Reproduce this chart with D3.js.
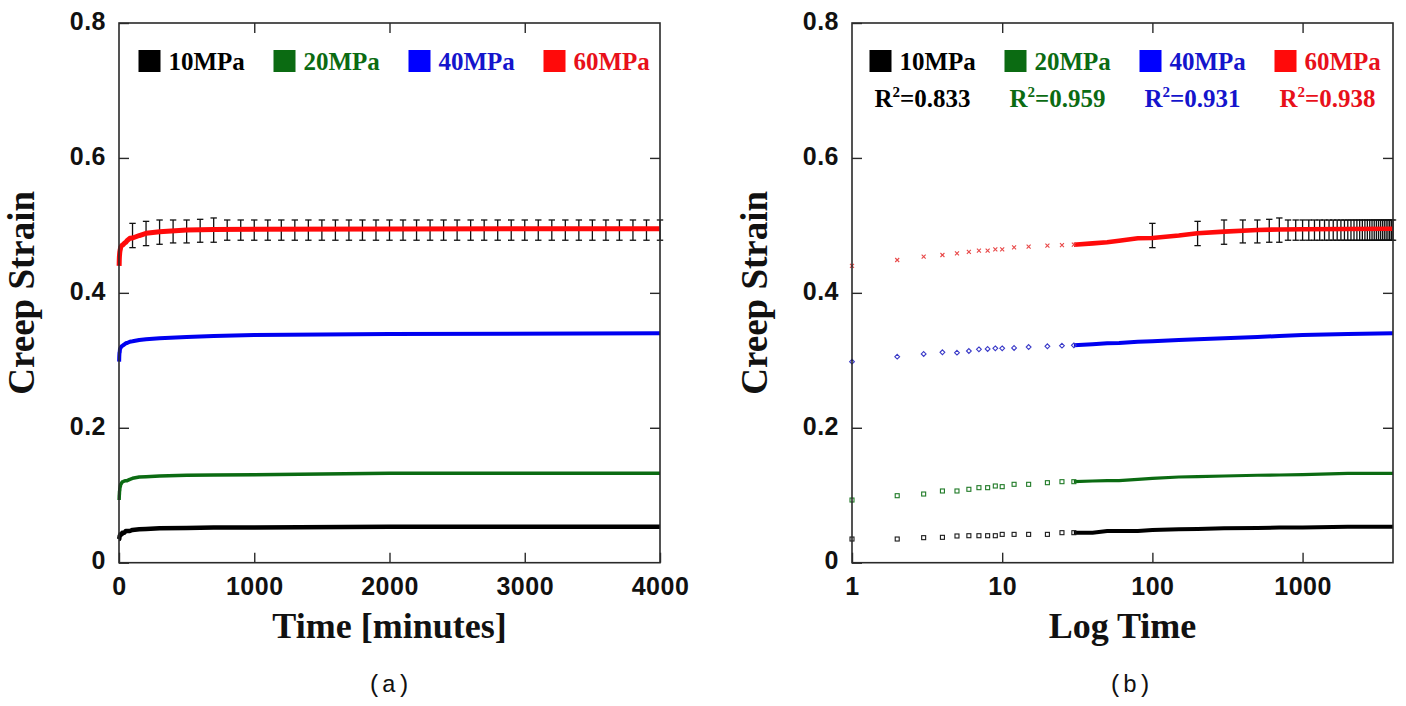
<!DOCTYPE html>
<html><head><meta charset="utf-8">
<script src="https://cdn.jsdelivr.net/npm/d3@7"></script>
<style>html,body{margin:0;padding:0;background:#fff;}svg{display:block;}</style>
</head><body>
<svg id="chart" width="1406" height="706"></svg>
<script>
// ---- data ----
const seriesNames = ["10MPa", "20MPa", "40MPa", "60MPa"];
const rSquared = ["0.833", "0.959", "0.931", "0.938"];
const times = [1,2,3,4,5,6,7,8,9,10,12,15,20,25,30,40,50,60,80,100,150,200,300,500,700,1000,2000,4000];
const strain10 = [0.0351,0.0351,0.0371,0.0376,0.0396,0.0400,0.0400,0.0400,0.0400,0.0420,0.0420,0.0420,0.0420,0.0445,0.0445,0.0445,0.0470,0.0470,0.0470,0.0485,0.0495,0.0500,0.0510,0.0514,0.0520,0.0520,0.0534,0.0534];
const strain20 = [0.0929,0.0993,0.1018,0.1063,0.1063,0.1088,0.1112,0.1112,0.1137,0.1127,0.1162,0.1162,0.1186,0.1201,0.1201,0.1211,0.1216,0.1216,0.1236,0.1251,0.1270,0.1275,0.1285,0.1296,0.1300,0.1305,0.1325,0.1325];
const strain40 = [0.2980,0.3054,0.3094,0.3119,0.3113,0.3138,0.3163,0.3168,0.3178,0.3178,0.3183,0.3197,0.3208,0.3217,0.3222,0.3237,0.3252,0.3257,0.3276,0.3282,0.3301,0.3311,0.3326,0.3346,0.3360,0.3375,0.3390,0.3400];
const strain60 = [0.4400,0.4487,0.4536,0.4561,0.4586,0.4606,0.4625,0.4625,0.4645,0.4645,0.4675,0.4684,0.4699,0.4709,0.4714,0.4734,0.4749,0.4773,0.4809,0.4813,0.4850,0.4883,0.4907,0.4932,0.4940,0.4942,0.4947,0.4951];
// error bars on the 60MPa series
const errTimes = [100,200,300,400,500,600,700,800,900,1000,1100,1200,1300,1400,1500,1600,1700,1800,1900,2000,2100,2200,2300,2400,2500,2600,2700,2800,2900,3000,3100,3200,3300,3400,3500,3600,3700,3800,3900,4000];
const errMean = [0.485,0.488,0.490,0.491,0.491,0.492,0.493,0.493,0.493,0.493,0.493,0.493,0.493,0.493,0.493,0.493,0.493,0.493,0.493,0.493,0.493,0.493,0.493,0.493,0.493,0.493,0.493,0.493,0.493,0.493,0.493,0.493,0.493,0.493,0.493,0.493,0.493,0.493,0.493,0.493];
const errHalf = [0.018,0.018,0.018,0.017,0.017,0.017,0.018,0.015,0.015,0.015,0.015,0.015,0.015,0.015,0.015,0.015,0.015,0.015,0.015,0.015,0.015,0.015,0.015,0.015,0.015,0.015,0.015,0.015,0.015,0.015,0.015,0.015,0.015,0.015,0.015,0.015,0.015,0.015,0.015,0.015];
const yTicks = [0, 0.2, 0.4, 0.6, 0.8];
const yTickLabels = ["0", "0.2", "0.4", "0.6", "0.8"];
const xTicksA = [0, 1000, 2000, 3000, 4000];
const xTicksB = [1, 10, 100, 1000];

// ---- styling ----
const lineColors = ["#000000", "#0b6b12", "#0000f0", "#ff0a0a"];
const squareColors = ["#000000", "#0b6b12", "#0000ff", "#ff0a0a"];
const textColors = ["#000000", "#0b6b12", "#1414cc", "#e8101a"];
const markColors = ["#1a1a1a", "#1f7a26", "#3a3ac8", "#e84848"];
const lineWidthsA = [4.5, 3.5, 4, 5];
const lineWidthsB = [4, 3.2, 4, 4.6];
const allSeries = [strain10, strain20, strain40, strain60];

const svg = d3.select("#chart");
const tickFont = "'Liberation Sans', Arial, sans-serif";
const serif = "'Liberation Serif', 'Times New Roman', serif";

function drawPanel(opts) {
  const {x, y, xTicks, xLabelFmt, xTitle, caption, legendX, showR2} = opts;
  const [x0, x1] = x.range();
  const [y0, y1] = y.range(); // y0 bottom, y1 top
  const g = svg.append("g");

  // axes with inward ticks
  const fmtY = d => yTickLabels[yTicks.indexOf(d)];
  const axL = g.append("g").attr("transform", `translate(${x0},0)`)
    .call(d3.axisLeft(y).tickValues(yTicks).tickSize(-10).tickPadding(13).tickFormat(fmtY));
  axL.selectAll("text").attr("dy", "0.25em");
  g.append("g").attr("transform", `translate(${x1},0)`)
    .call(d3.axisRight(y).tickValues(yTicks.slice(1, -1)).tickSize(-10).tickFormat(""));
  g.append("g").attr("transform", `translate(0,${y0})`)
    .call(d3.axisBottom(x).tickValues(xTicks).tickSize(-10).tickPadding(15).tickFormat(xLabelFmt));
  g.append("g").attr("transform", `translate(0,${y1})`)
    .call(d3.axisTop(x).tickValues(xTicks.slice(1, xTicks.length - (opts.log ? 0 : 1))).tickSize(-10).tickFormat(""));
  g.selectAll(".domain").remove();
  g.selectAll(".tick line").attr("stroke", "#2a2a2a").attr("stroke-width", 1.4);
  g.selectAll(".tick text").attr("font-family", tickFont).attr("font-weight", "bold")
    .attr("font-size", 25).attr("letter-spacing", 0.5).attr("fill", "#111");

  // error bars (60MPa)
  const eb = g.append("g").attr("stroke", "#111").attr("stroke-width", 1.3).attr("fill", "none");
  errTimes.forEach((t, i) => {
    const cx = x(t), ya = y(errMean[i] + errHalf[i]), yb = y(errMean[i] - errHalf[i]);
    eb.append("line").attr("x1", cx).attr("x2", cx).attr("y1", ya).attr("y2", yb);
    eb.append("line").attr("x1", cx - 3.2).attr("x2", cx + 3.2).attr("y1", ya).attr("y2", ya);
    eb.append("line").attr("x1", cx - 3.2).attr("x2", cx + 3.2).attr("y1", yb).attr("y2", yb);
  });

  // series
  allSeries.forEach((vals, si) => {
    const pts = times.map((t, i) => [t, vals[i]]);
    if (!opts.log) {
      g.append("path").datum(pts)
        .attr("d", d3.line().x(d => x(d[0])).y(d => y(d[1])))
        .attr("fill", "none").attr("stroke", lineColors[si])
        .attr("stroke-width", lineWidthsA[si]).attr("stroke-linejoin", "round");
    } else {
      const dense = pts.filter(d => d[0] >= 30);
      g.append("path").datum(dense)
        .attr("d", d3.line().x(d => x(d[0])).y(d => y(d[1])))
        .attr("fill", "none").attr("stroke", lineColors[si])
        .attr("stroke-width", lineWidthsB[si]).attr("stroke-linecap", "butt");
      const sparse = pts.filter(d => d[0] <= 30);
      const mg = g.append("g").attr("fill", "none").attr("stroke", markColors[si]).attr("stroke-width", 1.1);
      sparse.forEach(d => {
        const cx = x(d[0]), cy = y(d[1]);
        if (si === 3) {
          mg.append("path").attr("d", `M${cx-2},${cy-2}L${cx+2},${cy+2}M${cx-2},${cy+2}L${cx+2},${cy-2}`);
        } else if (si === 2) {
          mg.append("path").attr("d", `M${cx},${cy-2.4}L${cx+2.4},${cy}L${cx},${cy+2.4}L${cx-2.4},${cy}Z`);
        } else {
          mg.append("rect").attr("x", cx - 2).attr("y", cy - 2).attr("width", 4).attr("height", 4);
        }
      });
    }
  });

  // frame
  g.append("rect").attr("x", x0).attr("y", y1).attr("width", x1 - x0).attr("height", y0 - y1)
    .attr("fill", "none").attr("stroke", "#2a2a2a").attr("stroke-width", 1.6);

  // legend
  const step = 135;
  seriesNames.forEach((name, i) => {
    const lx = legendX + i * step;
    g.append("rect").attr("x", lx).attr("y", 50).attr("width", 22).attr("height", 22)
      .attr("fill", squareColors[i]);
    g.append("text").attr("x", lx + 30).attr("y", 70).text(name)
      .attr("font-family", serif).attr("font-weight", "bold").attr("font-size", 25)
      .attr("fill", textColors[i]);
    if (showR2) {
      const t = g.append("text").attr("x", lx + 53).attr("y", 107).attr("text-anchor", "middle")
        .attr("font-family", serif).attr("font-weight", "bold").attr("font-size", 25)
        .attr("fill", textColors[i]);
      t.append("tspan").text("R");
      t.append("tspan").text("2").attr("font-size", 15).attr("dy", -10);
      t.append("tspan").text("=" + rSquared[i]).attr("dy", 10);
    }
  });

  // titles
  g.append("text").attr("x", (x0 + x1) / 2).attr("y", 638).attr("text-anchor", "middle")
    .attr("font-family", serif).attr("font-weight", "bold").attr("font-size", 36).attr("fill", "#111")
    .text(xTitle);
  g.append("text").attr("transform", `translate(${x0 - 85},${(y0 + y1) / 2}) rotate(-90)`)
    .attr("text-anchor", "middle")
    .attr("font-family", serif).attr("font-weight", "bold").attr("font-size", 37).attr("fill", "#111")
    .text("Creep Strain");
  g.append("text").attr("x", opts.captionX).attr("y", 692).attr("text-anchor", "middle")
    .attr("font-family", "'Liberation Mono', 'DejaVu Sans Mono', monospace").attr("font-size", 24)
    .attr("fill", "#111").text(caption);
}

const yScale = d3.scaleLinear().domain([0, 0.8]).range([562.7, 23]);

drawPanel({
  x: d3.scaleLinear().domain([0, 4000]).range([119, 660]),
  y: yScale, xTicks: xTicksA, xLabelFmt: d => String(d),
  xTitle: "Time [minutes]", caption: "(a)", captionX: 389, legendX: 138.5, showR2: false, log: false
});
drawPanel({
  x: d3.scaleLog().domain([1, 4000]).range([852, 1393]),
  y: yScale, xTicks: xTicksB, xLabelFmt: d => String(d),
  xTitle: "Log Time", caption: "(b)", captionX: 1130, legendX: 869.5, showR2: true, log: true
});
</script>
</body></html>
